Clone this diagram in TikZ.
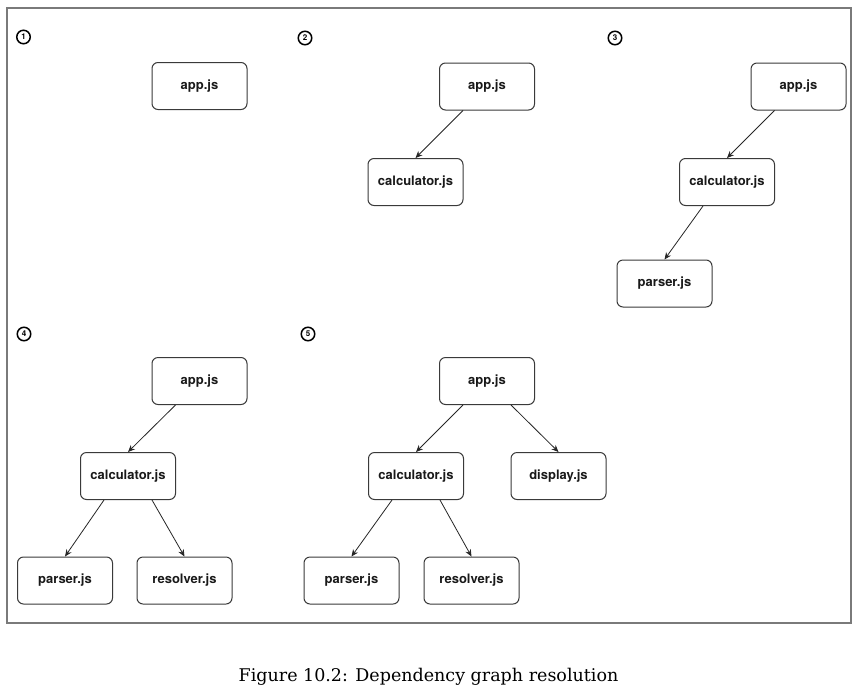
\documentclass[tikz,border=0pt]{standalone}
\usepackage{fontspec}
\setsansfont{TeX Gyre Heros}
\newfontfamily\capfont{DejaVu Serif}
\usetikzlibrary{arrows.meta}
\definecolor{framegray}{HTML}{7A7A7A}
\definecolor{boxline}{HTML}{3A3A3A}
\tikzset{
  modbox/.style={draw=boxline, line width=1pt, rounded corners=6pt, minimum width=95pt, minimum height=47pt, inner sep=0pt, font=\sffamily\bfseries\fontsize{13}{15}\selectfont, text=black!90},
  stepnum/.style={circle, draw=black, line width=1.5pt, inner sep=0pt, minimum size=13.5pt, font=\sffamily\bfseries\fontsize{8}{9}\selectfont},
  dep/.style={draw=black!85, line width=0.8pt, -{Stealth[length=7pt,width=6pt]}},
}
\begin{document}
\begin{tikzpicture}[x=1pt,y=-1pt]
\useasboundingbox[fill=white] (0,0) rectangle (867,694);
\draw[framegray, line width=1.4pt] (7,8) rectangle (851,623);

% step numbers
\node[stepnum] (n1) at (23.5,37) {1};
\node[stepnum] (n2) at (305,38) {2};
\node[stepnum] (n3) at (615,38) {3};
\node[stepnum] (n4) at (24,334) {4};
\node[stepnum] (n5) at (308,334) {5};

% panel 1
\node[modbox] (a1) at (199.5,86) {app.js};

% panel 2
\node[modbox] (a2) at (487,86.5) {app.js};
\node[modbox] (c2) at (415.5,182) {calculator.js};
\draw[dep] ([xshift=-24pt]a2.south) -- (c2.north);

% panel 3
\node[modbox] (a3) at (798.5,86.5) {app.js};
\node[modbox] (c3) at (727,182) {calculator.js};
\node[modbox] (p3) at (664.5,283.5) {parser.js};
\draw[dep] ([xshift=-24pt]a3.south) -- (c3.north);
\draw[dep] ([xshift=-24pt]c3.south) -- (p3.north);

% panel 4
\node[modbox] (a4) at (199.5,381) {app.js};
\node[modbox] (c4) at (128,476) {calculator.js};
\node[modbox] (p4) at (65,580.5) {parser.js};
\node[modbox] (r4) at (184.5,580.5) {resolver.js};
\draw[dep] ([xshift=-24pt]a4.south) -- (c4.north);
\draw[dep] ([xshift=-24pt]c4.south) -- (p4.north);
\draw[dep] ([xshift=24pt]c4.south) -- (r4.north);

% panel 5
\node[modbox] (a5) at (487,381) {app.js};
\node[modbox] (c5) at (416,476) {calculator.js};
\node[modbox] (d5) at (558.5,476) {display.js};
\node[modbox] (p5) at (351.5,580.5) {parser.js};
\node[modbox] (r5) at (471.5,580.5) {resolver.js};
\draw[dep] ([xshift=-24pt]a5.south) -- (c5.north);
\draw[dep] ([xshift=24pt]a5.south) -- (d5.north);
\draw[dep] ([xshift=-24pt]c5.south) -- (p5.north);
\draw[dep] ([xshift=24pt]c5.south) -- (r5.north);

% caption
\node[anchor=base, font=\capfont\fontsize{17.5}{21}\selectfont, inner sep=0pt] (cap) at (428.5,681) {Figure 10.2: Dependency graph resolution};
\end{tikzpicture}
\end{document}
